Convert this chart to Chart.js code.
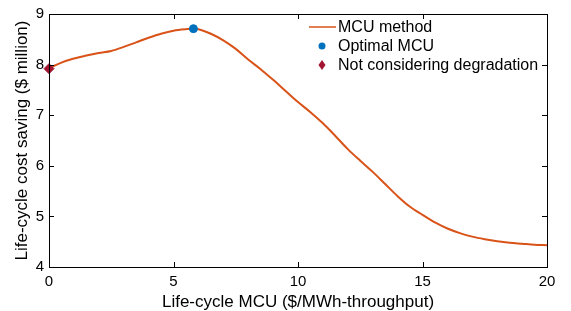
<!DOCTYPE html>
<html>
<head>
<meta charset="utf-8">
<script src="https://cdn.jsdelivr.net/npm/chart.js@4"></script>
<style>
  html, body { margin: 0; padding: 0; background: #fff; }
  #wrap { width: 571px; height: 311px; }
</style>
</head>
<body>
<div id="wrap"><canvas id="mcuChart" width="571" height="311"></canvas></div>
<script>
// values
const mcuValues = [0, 0.5, 1, 1.5, 2, 2.5, 3, 3.5, 4, 4.5, 5, 5.5, 5.8, 6, 6.5, 7, 7.5, 8, 8.5, 9, 9.5,
  10, 10.5, 11, 11.5, 12, 12.5, 13, 13.5, 14, 14.5, 15, 15.5, 16, 16.5, 17, 17.5, 18, 18.5, 19, 19.5, 20];
const savingValues = [7.93, 8.04, 8.12, 8.18, 8.23, 8.27, 8.35, 8.44, 8.53, 8.61, 8.67, 8.70, 8.71, 8.70, 8.61, 8.48, 8.31, 8.10, 7.91, 7.70, 7.48,
  7.26, 7.06, 6.84, 6.59, 6.33, 6.10, 5.88, 5.64, 5.40, 5.19, 5.03, 4.88, 4.76, 4.67, 4.60, 4.55, 4.51, 4.48, 4.46, 4.44, 4.43];
const optimalPoint = [{ x: 5.8, y: 8.71 }];
const noDegradationPoint = [{ x: 0, y: 7.92 }];
const xTicks = [0, 5, 10, 15, 20];
const yTicks = [4, 5, 6, 7, 8, 9];

const FONT = '"Liberation Sans", Arial, Helvetica, sans-serif';
const ORANGE = '#D95319';
const BLUE = '#0072BD';
const RED = '#A2142F';

// box, inward ticks and legend, matlab style
const framePlugin = {
  id: 'frame',
  afterDraw(chart) {
    const { ctx, chartArea: a, scales } = chart;
    ctx.save();
    ctx.strokeStyle = '#000';
    ctx.lineWidth = 1;
    ctx.strokeRect(a.left + 0.5, a.top + 0.5, a.right - a.left, a.bottom - a.top);
    ctx.beginPath();
    xTicks.forEach(v => {
      const px = Math.round(scales.x.getPixelForValue(v)) + 0.5;
      ctx.moveTo(px, a.bottom); ctx.lineTo(px, a.bottom - 5);
      ctx.moveTo(px, a.top); ctx.lineTo(px, a.top + 5);
    });
    yTicks.forEach(v => {
      const py = Math.round(scales.y.getPixelForValue(v)) + 0.5;
      ctx.moveTo(a.left, py); ctx.lineTo(a.left + 5, py);
      ctx.moveTo(a.right, py); ctx.lineTo(a.right - 5, py);
    });
    ctx.stroke();

    // legend
    ctx.font = '16px ' + FONT;
    ctx.fillStyle = '#000';
    ctx.textBaseline = 'middle';
    const tx = 338, rows = [28, 47, 66];
    ctx.fillText(chart.data.datasets[0].label, tx, rows[0]);
    ctx.fillText(chart.data.datasets[1].label, tx, rows[1]);
    ctx.fillText(chart.data.datasets[2].label, tx, rows[2]);
    ctx.strokeStyle = ORANGE; ctx.lineWidth = 1.5;
    ctx.beginPath(); ctx.moveTo(309, rows[0] - 1); ctx.lineTo(336, rows[0] - 1); ctx.stroke();
    ctx.fillStyle = BLUE;
    ctx.beginPath(); ctx.arc(322, rows[1] - 1, 3.5, 0, Math.PI * 2); ctx.fill();
    ctx.fillStyle = RED;
    ctx.beginPath();
    ctx.moveTo(322, rows[2] - 6); ctx.lineTo(325.5, rows[2] - 1);
    ctx.lineTo(322, rows[2] + 4); ctx.lineTo(318.5, rows[2] - 1);
    ctx.closePath(); ctx.fill();
    ctx.restore();
  }
};

const ctx = document.getElementById('mcuChart').getContext('2d');
const mcuChart = new Chart(ctx, {
  type: 'line',
  data: {
    datasets: [{
      label: 'MCU method',
      data: mcuValues.map((x, i) => ({ x: x, y: savingValues[i] })),
      borderColor: ORANGE,
      borderWidth: 2,
      pointRadius: 0,
      cubicInterpolationMode: 'monotone',
      order: 3
    }, {
      label: 'Optimal MCU',
      type: 'scatter',
      data: optimalPoint,
      backgroundColor: BLUE,
      borderColor: BLUE,
      pointRadius: 4,
      order: 1
    }, {
      label: 'Not considering degradation',
      type: 'scatter',
      data: noDegradationPoint,
      backgroundColor: RED,
      borderColor: RED,
      pointStyle: 'rectRot',
      pointRadius: 5,
      order: 2
    }]
  },
  options: {
    responsive: false,
    animation: false,
    clip: false,
    layout: { padding: { top: 10, right: 24, left: 0, bottom: 0 } },
    plugins: { legend: { display: false }, tooltip: { enabled: false } },
    scales: {
      x: {
        type: 'linear', min: 0, max: 20,
        afterBuildTicks: s => { s.ticks = xTicks.map(v => ({ value: v })); },
        afterFit: s => { s.height = 44; },
        grid: { display: false, drawTicks: false },
        border: { display: false },
        ticks: { color: '#000', font: { family: FONT, size: 15 }, padding: 6, maxRotation: 0 },
        title: { display: true, text: 'Life-cycle MCU ($/MWh-throughput)', color: '#000',
          font: { family: FONT, size: 17 }, padding: { top: 0, bottom: -2 } }
      },
      y: {
        type: 'linear', min: 4, max: 9,
        afterBuildTicks: s => { s.ticks = yTicks.map(v => ({ value: v })); },
        afterFit: s => { s.width = 49; },
        grid: { display: false, drawTicks: false },
        border: { display: false },
        ticks: { color: '#000', font: { family: FONT, size: 15 }, padding: 5 },
        title: { display: true, text: 'Life-cycle cost saving ($ million)', color: '#000',
          font: { family: FONT, size: 17 }, padding: { top: 12, bottom: 0 } }
      }
    }
  },
  plugins: [framePlugin]
});
</script>
</body>
</html>
